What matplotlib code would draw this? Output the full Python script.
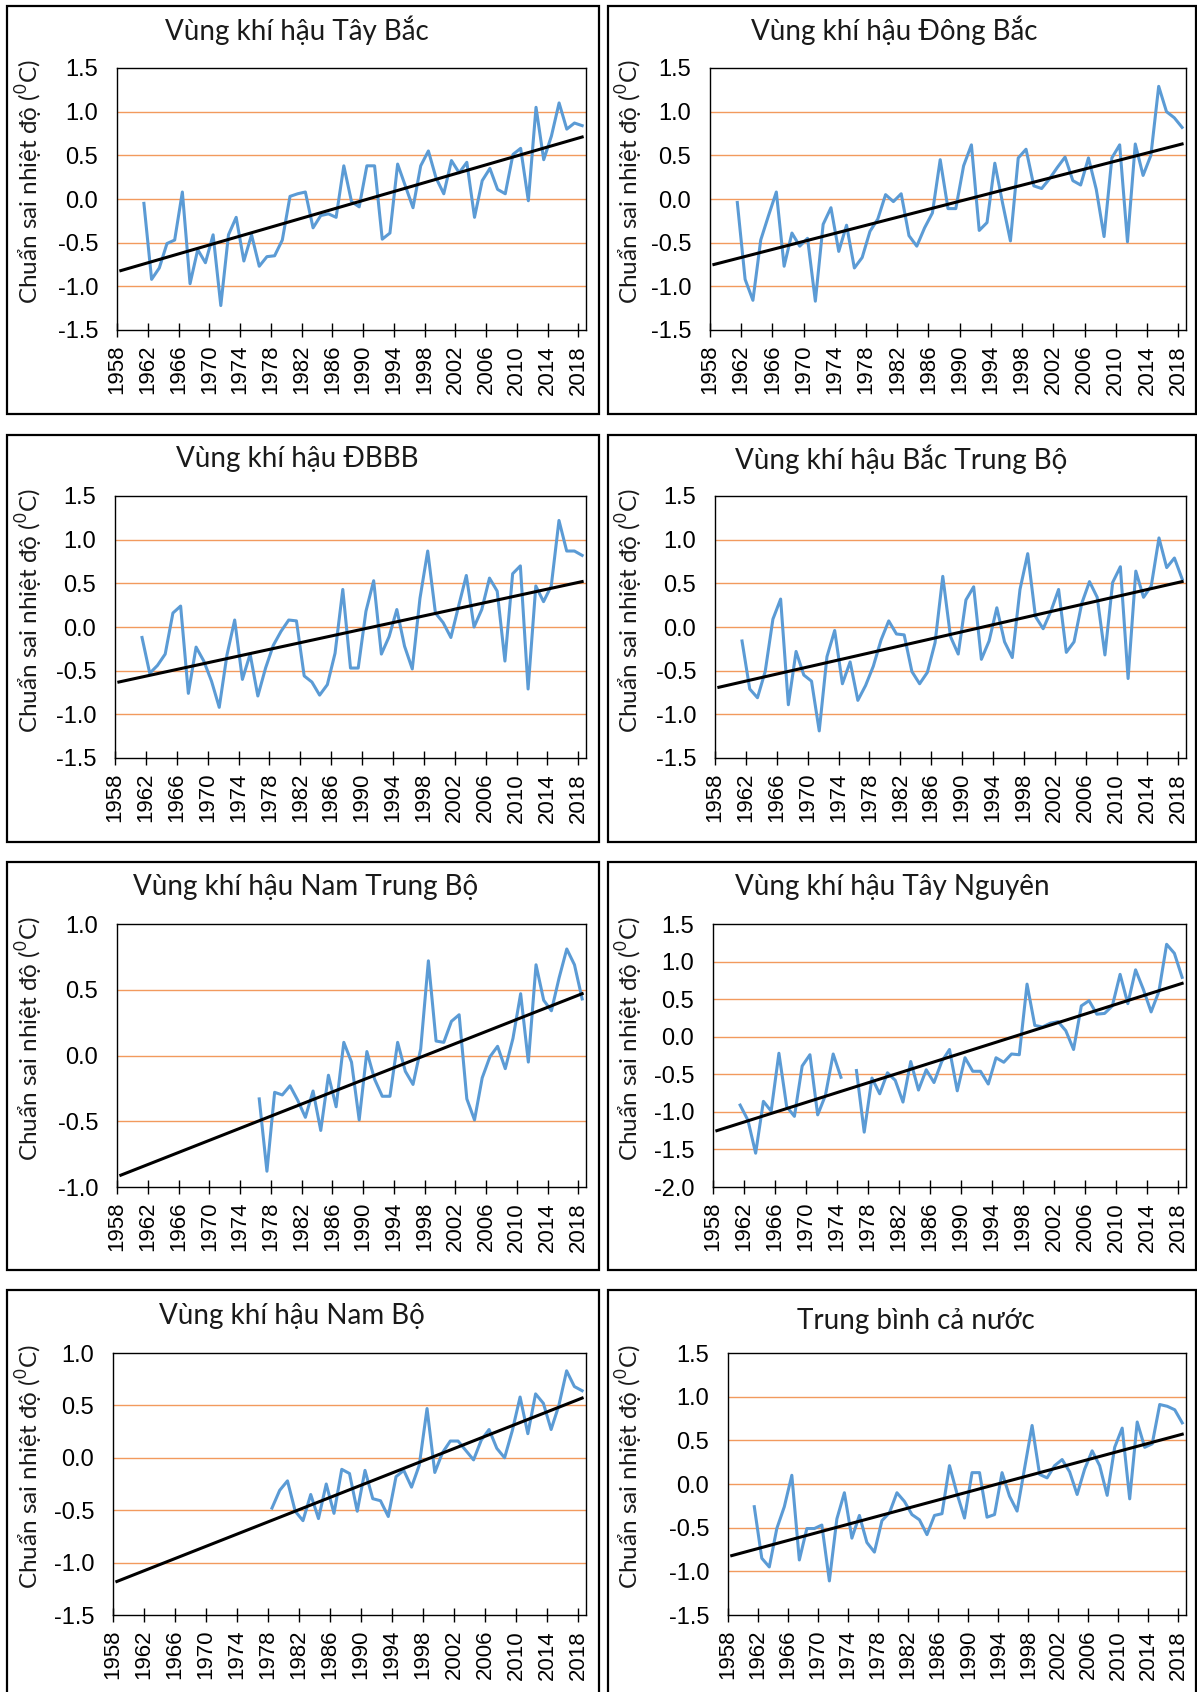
import matplotlib
matplotlib.use("Agg")
import matplotlib.pyplot as plt
from matplotlib.patches import Rectangle
import numpy as np

W, H = 1197, 1692

# nam cua chuoi so lieu
years = np.arange(1961, 2019)
years_ntb = np.arange(1976, 2019)
years_nb = np.arange(1978, 2019)
trend_years = [1958, 2018]
nan = np.nan

tay_bac = [-0.05, -0.92, -0.79, -0.51, -0.47, 0.08, -0.97, -0.58, -0.73, -0.41,
           -1.22, -0.41, -0.21, -0.71, -0.41, -0.77, -0.66, -0.65, -0.47, 0.03,
           0.06, 0.08, -0.33, -0.19, -0.17, -0.21, 0.38, -0.03, -0.09, 0.38,
           0.38, -0.46, -0.39, 0.40, 0.15, -0.10, 0.38, 0.55, 0.24, 0.06,
           0.44, 0.30, 0.42, -0.21, 0.21, 0.35, 0.11, 0.06, 0.51, 0.58,
           -0.02, 1.05, 0.45, 0.72, 1.10, 0.80, 0.87, 0.84]
dong_bac = [-0.04, -0.92, -1.16, -0.47, -0.19, 0.08, -0.77, -0.39, -0.54, -0.45,
            -1.17, -0.29, -0.10, -0.60, -0.30, -0.79, -0.67, -0.37, -0.23, 0.05,
            -0.03, 0.06, -0.42, -0.54, -0.33, -0.16, 0.45, -0.11, -0.11, 0.38,
            0.62, -0.36, -0.27, 0.41, -0.05, -0.48, 0.47, 0.57, 0.15, 0.12,
            0.23, 0.36, 0.48, 0.21, 0.16, 0.47, 0.11, -0.43, 0.47, 0.62,
            -0.49, 0.63, 0.27, 0.50, 1.29, 1.00, 0.93, 0.82]
dbbb = [-0.12, -0.53, -0.44, -0.31, 0.16, 0.24, -0.76, -0.23, -0.39, -0.62,
        -0.92, -0.32, 0.08, -0.60, -0.31, -0.79, -0.47, -0.21, -0.05, 0.08,
        0.07, -0.56, -0.63, -0.78, -0.66, -0.30, 0.43, -0.47, -0.47, 0.18,
        0.53, -0.31, -0.11, 0.20, -0.22, -0.48, 0.33, 0.87, 0.16, 0.05,
        -0.12, 0.24, 0.59, 0.00, 0.20, 0.56, 0.41, -0.39, 0.61, 0.70,
        -0.71, 0.47, 0.29, 0.47, 1.22, 0.87, 0.87, 0.82]
bac_trung_bo = [-0.16, -0.71, -0.81, -0.51, 0.09, 0.32, -0.89, -0.28, -0.55, -0.62,
                -1.19, -0.34, -0.04, -0.65, -0.40, -0.84, -0.67, -0.45, -0.15, 0.07,
                -0.08, -0.09, -0.51, -0.65, -0.52, -0.18, 0.58, -0.11, -0.31, 0.31,
                0.46, -0.37, -0.16, 0.22, -0.17, -0.35, 0.43, 0.84, 0.12, -0.02,
                0.18, 0.43, -0.29, -0.17, 0.27, 0.52, 0.34, -0.32, 0.51, 0.69,
                -0.59, 0.64, 0.34, 0.47, 1.02, 0.68, 0.79, 0.55]
nam_trung_bo = [-0.33, -0.88, -0.28, -0.30, -0.23, -0.34, -0.47, -0.27, -0.57, -0.15,
                -0.39, 0.10, -0.05, -0.49, 0.03, -0.18, -0.31, -0.31, 0.10, -0.12,
                -0.22, 0.05, 0.72, 0.11, 0.10, 0.26, 0.31, -0.33, -0.49, -0.17,
                -0.01, 0.07, -0.10, 0.13, 0.47, -0.05, 0.69, 0.42, 0.34, 0.59,
                0.81, 0.69, 0.43]
tay_nguyen = [-0.91, -1.11, -1.55, -0.86, -0.99, -0.22, -0.93, -1.06, -0.39, -0.24,
              -1.04, -0.78, -0.23, -0.54, nan, -0.45, -1.27, -0.55, -0.76, -0.48,
              -0.58, -0.87, -0.33, -0.71, -0.44, -0.61, -0.33, -0.17, -0.72, -0.28,
              -0.46, -0.46, -0.63, -0.28, -0.34, -0.23, -0.24, 0.70, 0.15, 0.13,
              0.18, 0.20, 0.08, -0.17, 0.41, 0.48, 0.30, 0.31, 0.41, 0.83,
              0.44, 0.89, 0.63, 0.33, 0.60, 1.23, 1.11, 0.79]
nam_bo = [-0.48, -0.31, -0.22, -0.51, -0.60, -0.35, -0.58, -0.25, -0.53, -0.11,
          -0.15, -0.51, -0.12, -0.39, -0.41, -0.56, -0.18, -0.12, -0.28, -0.07,
          0.47, -0.14, 0.05, 0.16, 0.16, 0.07, -0.02, 0.17, 0.27, 0.09,
          0.00, 0.26, 0.58, 0.23, 0.61, 0.52, 0.27, 0.50, 0.83, 0.68,
          0.64]
ca_nuoc = [-0.26, -0.85, -0.95, -0.51, -0.26, 0.10, -0.87, -0.51, -0.51, -0.47,
           -1.11, -0.40, -0.10, -0.62, -0.36, -0.67, -0.78, -0.42, -0.33, -0.10,
           -0.20, -0.35, -0.41, -0.58, -0.36, -0.34, 0.21, -0.11, -0.39, 0.13,
           0.13, -0.38, -0.35, 0.13, -0.14, -0.31, 0.18, 0.67, 0.11, 0.07,
           0.21, 0.28, 0.14, -0.12, 0.17, 0.38, 0.21, -0.13, 0.42, 0.64,
           -0.17, 0.71, 0.42, 0.46, 0.91, 0.89, 0.85, 0.70]

# duong xu the tuyen tinh (gia tri dau, cuoi)
trend_tay_bac = [-0.82, 0.71]
trend_dong_bac = [-0.75, 0.63]
trend_dbbb = [-0.63, 0.52]
trend_btb = [-0.69, 0.52]
trend_ntb = [-0.91, 0.47]
trend_tn = [-1.25, 0.71]
trend_nb = [-1.18, 0.57]
trend_cn = [-0.82, 0.57]

titles = ["Vùng khí hậu Tây Bắc", "Vùng khí hậu Đông Bắc",
          "Vùng khí hậu ĐBBB", "Vùng khí hậu Bắc Trung Bộ",
          "Vùng khí hậu Nam Trung Bộ", "Vùng khí hậu Tây Nguyên",
          "Vùng khí hậu Nam Bộ", "Trung bình cả nước"]
ylims = [(-1.5, 1.5), (-1.5, 1.5), (-1.5, 1.5), (-1.5, 1.5),
         (-1.0, 1.0), (-2.0, 1.5), (-1.5, 1.0), (-1.5, 1.5)]
ylabel = "Chuẩn sai nhiệt độ ($^{0}$C)"

series = [(years, tay_bac, trend_tay_bac), (years, dong_bac, trend_dong_bac),
          (years, dbbb, trend_dbbb), (years, bac_trung_bo, trend_btb),
          (years_ntb, nam_trung_bo, trend_ntb), (years, tay_nguyen, trend_tn),
          (years_nb, nam_bo, trend_nb), (years, ca_nuoc, trend_cn)]

# khung ve (pixel): trai, tren, phai, duoi
plot_boxes = [(117, 68, 586, 330), (710, 68, 1186, 330),
              (115, 496, 586, 758), (715, 496, 1186, 758),
              (117, 924, 586, 1187), (713, 924, 1186, 1187),
              (113, 1353, 586, 1615), (728, 1353, 1186, 1615)]
panel_cols = [(7, 599), (608, 1196)]
panel_rows = [(6, 414), (435, 842), (862, 1270), (1290, 1705)]
title_pos = [(297, 30), (894, 30), (297, 459), (901, 459),
             (306, 887), (892, 887), (292, 1316), (916, 1321)]
ylabel_pos = [(29, 182), (629, 182), (29, 611), (629, 611),
              (29, 1039), (629, 1039), (29, 1467), (629, 1467)]

BLUE = "#5B9BD5"
GRID = "#F29A5E"
TEXT_FONT = ["Lato", "DejaVu Sans"]
TICK_FONT = ["Liberation Sans", "DejaVu Sans"]

plt.rcParams["mathtext.fontset"] = "custom"
plt.rcParams["mathtext.rm"] = "Lato"

fig = plt.figure(figsize=(W / 100, H / 100), dpi=100)

# khung vien tung o
for r in panel_rows:
    for c in panel_cols:
        fig.add_artist(Rectangle((c[0] / W, 1 - r[1] / H), (c[1] - c[0]) / W,
                                 (r[1] - r[0]) / H, transform=fig.transFigure,
                                 fill=False, lw=1.6, edgecolor="black"))

for i in range(8):
    l, t, r, b = plot_boxes[i]
    ax = fig.add_axes([l / W, 1 - b / H, (r - l) / W, (b - t) / H])
    lo, hi = ylims[i]
    yrs, vals, trend = series[i]

    ax.set_xlim(1958, 2019)
    ax.set_ylim(lo, hi)
    yt = np.round(np.arange(lo, hi + 0.01, 0.5), 1)
    ax.set_yticks(yt)
    ax.set_yticklabels(["%.1f" % (v + 0.0) for v in yt], family=TICK_FONT, fontsize=17)
    ax.tick_params(axis="y", length=0, pad=13.5)

    xt = np.arange(1958, 2019, 4)
    ax.set_xticks(xt)
    ax.set_xticklabels([str(x) for x in xt], rotation=90, family=TICK_FONT, fontsize=16)
    ax.tick_params(axis="x", direction="inout", length=10.5, width=1.0, pad=5.5)

    for v in yt[1:-1]:
        ax.axhline(v, color=GRID, lw=1.0, zorder=1)

    # so lieu dat giua moi nam
    ax.plot(np.asarray(yrs) + 0.5, vals, color=BLUE, lw=2.2, zorder=3)
    ax.plot(np.asarray(trend_years) + 0.5, trend, color="black", lw=2.2, zorder=4)

    for s in ax.spines.values():
        s.set_linewidth(1.0)

    tx, ty = title_pos[i]
    fig.text(tx / W, 1 - ty / H, titles[i], ha="center", va="center",
             fontsize=20, family=TEXT_FONT, color="#1a1a1a")
    lx, ly = ylabel_pos[i]
    fig.text(lx / W, 1 - ly / H, ylabel, ha="center", va="center", rotation=90,
             fontsize=17.5, family=TEXT_FONT, color="#1a1a1a")

fig.savefig("out.png", dpi=100)
